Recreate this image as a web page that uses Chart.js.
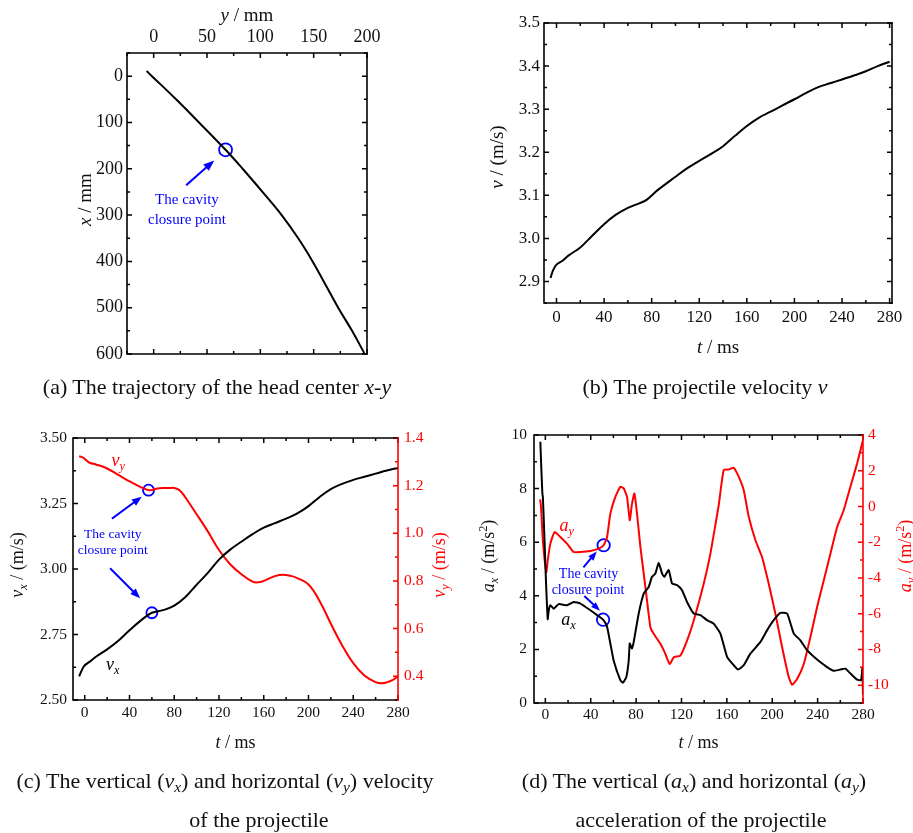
<!DOCTYPE html>
<html>
<head>
<meta charset="utf-8">
<script src="https://cdn.jsdelivr.net/npm/chart.js@4.4.1/dist/chart.umd.min.js"></script>
<style>
  body { margin: 0; background: #fff; }
  #page { position: relative; width: 913px; height: 833px; overflow: hidden; background: #fff;
          font-family: "Liberation Serif", "Times New Roman", serif; }
  #page canvas { position: absolute; left: 0; top: 0; }
  .cap { position: absolute; font-size: 22px; line-height: 26px; white-space: nowrap;
         transform: translateX(-50%); color: #111; }
  .cap sub { font-size: 0.7em; vertical-align: -0.25em; line-height: 0; }
</style>
</head>
<body>
<div id="page">
  <canvas id="chartA" width="913" height="833"></canvas>
  <canvas id="chartB" width="913" height="833"></canvas>
  <canvas id="chartC" width="913" height="833"></canvas>
  <canvas id="chartD" width="913" height="833"></canvas>
  <div class="cap" style="left:217px;top:374px">(a) The trajectory of the head center <i>x</i>-<i>y</i></div>
  <div class="cap" style="left:705px;top:374px">(b) The projectile velocity <i>v</i></div>
  <div class="cap" style="left:225px;top:768px">(c) The vertical (<i>v<sub>x</sub></i>) and horizontal (<i>v<sub>y</sub></i>) velocity</div>
  <div class="cap" style="left:259px;top:807px">of the projectile</div>
  <div class="cap" style="left:694px;top:768px">(d) The vertical (<i>a<sub>x</sub></i>) and horizontal (<i>a<sub>y</sub></i>)</div>
  <div class="cap" style="left:701px;top:807px">acceleration of the projectile</div>
</div>
<script>
// (a) head centre trajectory: horizontal y (mm) against depth x (mm)
const trajY = [-6.6, -1.6, 21, 42.5, 67.4, 83.4, 102, 120, 135.5, 149, 161, 173, 186, 197.4];
const trajX = [-11, 0, 50, 100, 159, 200, 250, 300, 350, 400, 450, 500, 550, 598];
const closureA = 4;

// (b) projectile velocity v
const tV = [-5, -3, 0, 5, 10, 20, 30, 40, 50, 60, 70, 76, 85, 100, 110, 120, 130, 140, 150, 160,
            170, 180, 190, 200, 210, 220, 230, 240, 250, 260, 270, 280];
const vV = [2.908, 2.925, 2.939, 2.948, 2.96, 2.979, 3.006, 3.033, 3.055, 3.071, 3.082, 3.09, 3.112,
            3.143, 3.163, 3.18, 3.196, 3.214, 3.238, 3.261, 3.28, 3.294, 3.309, 3.323, 3.338, 3.351,
            3.36, 3.369, 3.378, 3.388, 3.4, 3.41];

// (c) vertical vx and horizontal vy velocity
const tVx = [-5, -3, -1, 1, 5, 10, 20, 30, 40, 50, 60, 70, 80, 90, 100, 110, 120, 130, 140, 150, 160,
             170, 180, 190, 200, 210, 220, 230, 240, 250, 260, 270, 280];
const vx = [2.59, 2.61, 2.627, 2.636, 2.648, 2.665, 2.693, 2.726, 2.766, 2.803, 2.833, 2.843, 2.86,
            2.893, 2.94, 2.985, 3.036, 3.074, 3.104, 3.133, 3.158, 3.175, 3.192, 3.212, 3.24, 3.275,
            3.305, 3.325, 3.34, 3.352, 3.364, 3.376, 3.386];
const tVy = [-5, -3, -1, 1, 3, 5, 10, 20, 30, 40, 50, 57, 60, 65, 70, 75, 80, 85, 90, 100, 110, 120,
             130, 140, 150, 155, 160, 170, 177, 185, 190, 200, 210, 220, 230, 240, 250, 260, 265, 270,
             275, 280];
const vy = [1.323, 1.321, 1.316, 1.308, 1.3, 1.295, 1.289, 1.272, 1.245, 1.218, 1.194, 1.181, 1.182,
            1.188, 1.19, 1.19, 1.19, 1.18, 1.15, 1.08, 1.008, 0.93, 0.87, 0.828, 0.797, 0.794, 0.8,
            0.82, 0.826, 0.82, 0.812, 0.785, 0.715, 0.62, 0.53, 0.455, 0.403, 0.375, 0.37, 0.374,
            0.383, 0.4];
const closureVx = 60, closureVy = 57;

// (d) vertical ax and horizontal ay acceleration
const tAx = [-4.4, -3.6, -2.6, -2.2, -1, 0.5, 2.1, 3, 4.4, 7.3, 11.8, 19.1, 25, 30.9, 39.7, 45.6, 50.9,
             54.4, 57.3, 60.2, 66.1, 68.5, 71.4, 73.5, 74.4, 76.4, 77.9, 82.3, 86.7, 91.1, 94, 97, 99.9,
             102.9, 104.9, 108.7, 111.7, 116.1, 120.5, 124.9, 130.8, 136.7, 142.5, 148.4, 154.3, 160.2,
             166, 169.9, 174.9, 180.7, 189.6, 195.4, 201.3, 207.2, 213.1, 219, 224.8, 230.7, 239.5,
             248.3, 254.2, 260.1, 264.5, 268.9, 274.8, 278.3, 279.5, 280];
const ax = [9.75, 8.8, 7.8, 7.7, 6.4, 4.6, 3.13, 3.45, 3.65, 3.52, 3.69, 3.65, 3.77, 3.71, 3.46, 3.28,
            3.11, 2.84, 2.22, 1.59, 0.85, 0.76, 0.97, 1.59, 2.22, 2.03, 2.28, 3.34, 4.08, 4.33, 4.71,
            4.83, 5.23, 4.83, 4.71, 4.96, 4.46, 4.4, 4.21, 3.77, 3.34, 3.28, 3.09, 2.96, 2.59, 1.72,
            1.41, 1.25, 1.41, 1.84, 2.28, 2.71, 3.09, 3.36, 3.34, 2.59, 2.34, 1.97, 1.62, 1.34, 1.2,
            1.25, 1.28, 1.1, 0.87, 0.85, 1.32, 0.3];
const tAy = [-4.6, -4.0, -3.3, -2.4, -0.9, 0.9, 2.1, 4.4, 8.2, 13.2, 19.1, 25, 30.9, 39.7, 47, 51.4,
             54.4, 57.3, 61.7, 66.1, 69.1, 72, 74.4, 76.4, 78.5, 80.8, 83.8, 88.2, 92.6, 95.5, 101.4,
             105.8, 109.6, 113.2, 119, 124.9, 130.8, 139.6, 145.5, 152.8, 157.2, 161.6, 166, 170.5,
             174.9, 179.3, 185.2, 191, 196.9, 202.8, 208.7, 214.6, 217.5, 221.9, 227.8, 233.6, 239.5,
             245.4, 251.3, 257.2, 263, 268.9, 274.8, 280];
const ay = [0.4, 0.1, -0.6, -1.71, -2.83, -3.67, -3.02, -2.08, -1.43, -1.71, -2.08, -2.55, -2.55,
            -2.49, -2.36, -2.17, -1.71, -0.4, 0.54, 1.1, 1.01, 0.54, -0.77, 0.16, 0.73, -0.4, -2.27,
            -4.51, -6.76, -7.13, -7.69, -8.25, -8.82, -8.44, -8.35, -7.51, -6.38, -4.33, -2.64, 0.07,
            2.04, 2.07, 2.17, 1.66, 0.91, -0.58, -1.89, -2.83, -4.33, -6.01, -7.88, -9.56, -9.98,
            -9.66, -8.82, -7.32, -5.64, -4.14, -2.64, -1.15, -0.21, 1.1, 2.41, 3.72];
const closureAx = 50.9, closureAy = 51.4;

// tick labels
const ticksTrajY = [0, 50, 100, 150, 200];
const ticksTrajX = [0, 100, 200, 300, 400, 500, 600];
const ticksT = [0, 40, 80, 120, 160, 200, 240, 280];
const ticksV = [2.9, 3.0, 3.1, 3.2, 3.3, 3.4, 3.5];
const ticksVx = [2.5, 2.75, 3.0, 3.25, 3.5];
const ticksVy = [0.4, 0.6, 0.8, 1.0, 1.2, 1.4];
const ticksAx = [0, 2, 4, 6, 8, 10];
const ticksAy = [-10, -8, -6, -4, -2, 0, 2, 4];

const SERIF = '"Liberation Serif", "Times New Roman", serif';
const BLUE = '#0000ff', RED = '#ff0000';
const SIDE_ROOM = 50, RIGHT_ROOM = 40, ROW_ROOM = 32;

function xy(xs, ys) { return xs.map(function (x, i) { return {x: x, y: ys[i]}; }); }
function at(xs, ys, x) { const i = xs.indexOf(x); return [{x: xs[i], y: ys[i]}]; }

// layout padding so that the plot box lands on (l, t, r, b); scales get a fixed room
function area(l, t, r, b, has) {
  return {
    left: l - (has.left ? SIDE_ROOM : 0),
    top: t - (has.top ? ROW_ROOM : 0),
    right: 913 - r - (has.right ? RIGHT_ROOM : 0),
    bottom: 833 - b - (has.bottom ? ROW_ROOM : 0)
  };
}

function linAxis(pos, min, max, ticks, fmt, o) {
  const room = pos === 'left' ? SIDE_ROOM : pos === 'right' ? RIGHT_ROOM : ROW_ROOM;
  return {
    type: 'linear', position: pos, min: min, max: max, reverse: !!o.reverse,
    grid: {display: false, drawTicks: false},
    border: {display: false},
    afterBuildTicks: function (s) { s.ticks = ticks.map(function (v) { return {value: v}; }); },
    afterFit: function (s) {
      if (s.isHorizontal()) s.height = room; else s.width = room;
      s.paddingLeft = s.paddingRight = s.paddingTop = s.paddingBottom = 0;
    },
    ticks: {
      color: o.color || '#111', padding: o.pad,
      maxRotation: 0, minRotation: 0, autoSkip: false,
      font: {family: SERIF, size: o.size},
      callback: function (v) { return fmt(v); }
    }
  };
}

function curve(data, color, axisId, tension) {
  return {data: data, borderColor: color, borderWidth: 2, pointRadius: 0, fill: false,
          tension: tension, yAxisID: axisId};
}
function ring(data, axisId, r) {
  return {data: data, showLine: false, pointRadius: r, pointHoverRadius: r, pointStyle: 'circle',
          pointBorderColor: BLUE, pointBackgroundColor: 'rgba(0,0,0,0)', pointBorderWidth: 1.8,
          yAxisID: axisId};
}

// frame, inward ticks, axis titles and the blue notes for each panel
const decor = {
  chartA: {
    right: 'y', rightColor: '#000',
    titles: [
      {side: 'top', dist: 38, size: 19, parts: [{t: 'y', i: 1}, {t: ' / mm'}]},
      {side: 'left', dist: 42, shift: -4, size: 19, parts: [{t: 'x', i: 1}, {t: ' / mm'}]}
    ],
    notes: [
      {kind: 'arrow', from: [31.2, 234], to: [56.8, 182], head: 11},
      {kind: 'rich', at: [31.2, 265], size: 15, color: BLUE, parts: [{t: 'The cavity'}]},
      {kind: 'rich', at: [31.2, 308], size: 15, color: BLUE, parts: [{t: 'closure point'}]}
    ]
  },
  chartB: {
    right: 'y', rightColor: '#000',
    titles: [
      {side: 'left', dist: 47, shift: -6, size: 19, parts: [{t: 'v', i: 1}, {t: ' / (m/s)'}]},
      {side: 'bottom', dist: 44, size: 19, parts: [{t: 't', i: 1}, {t: ' / ms'}]}
    ],
    notes: []
  },
  chartC: {
    right: 'y2', rightColor: RED,
    titles: [
      {side: 'left', dist: 56, shift: -4, size: 18, parts: [{t: 'v', i: 1}, {t: 'x', i: 1, sub: 1}, {t: ' / (m/s)'}]},
      {side: 'right', dist: 41, shift: -4, size: 18, color: RED, parts: [{t: 'v', i: 1}, {t: 'y', i: 1, sub: 1}, {t: ' / (m/s)'}]},
      {side: 'bottom', dist: 42, size: 18, parts: [{t: 't', i: 1}, {t: ' / ms'}]}
    ],
    notes: [
      {kind: 'arrow', from: [25, 3.194], to: [51, 3.276], head: 10},
      {kind: 'arrow', from: [23.3, 3.0], to: [49.5, 2.888], head: 10},
      {kind: 'rich', at: [25, 3.136], size: 13.5, color: BLUE, parts: [{t: 'The cavity'}]},
      {kind: 'rich', at: [25, 3.075], size: 13.5, color: BLUE, parts: [{t: 'closure point'}]},
      {kind: 'rich', at: [30, 3.415], size: 18, color: RED, parts: [{t: 'v', i: 1}, {t: 'y', i: 1, sub: 1}]},
      {kind: 'rich', at: [25, 2.637], size: 18, color: '#000', parts: [{t: 'v', i: 1}, {t: 'x', i: 1, sub: 1}]}
    ]
  },
  chartD: {
    right: 'y2', rightColor: RED,
    titles: [
      {side: 'left', dist: 46, shift: -13, size: 18, parts: [{t: 'a', i: 1}, {t: 'x', i: 1, sub: 1}, {t: ' / (m/s'}, {t: '2', sup: 1}, {t: ')'}]},
      {side: 'right', dist: 42, shift: -13, size: 18, color: RED, parts: [{t: 'a', i: 1}, {t: 'y', i: 1, sub: 1}, {t: ' / (m/s'}, {t: '2', sup: 1}, {t: ')'}]},
      {side: 'bottom', dist: 39, size: 18, parts: [{t: 't', i: 1}, {t: ' / ms'}]}
    ],
    notes: [
      {kind: 'arrow', from: [34.1, 5.09], to: [45.3, 5.65], head: 9},
      {kind: 'arrow', from: [35, 3.97], to: [48.2, 3.44], head: 9},
      {kind: 'rich', at: [38.1, 4.84], size: 14, color: BLUE, parts: [{t: 'The cavity'}]},
      {kind: 'rich', at: [37.6, 4.22], size: 14, color: BLUE, parts: [{t: 'closure point'}]},
      {kind: 'rich', at: [18.9, 6.64], size: 18, color: RED, parts: [{t: 'a', i: 1}, {t: 'y', i: 1, sub: 1}]},
      {kind: 'rich', at: [20.3, 3.12], size: 18, color: '#000', parts: [{t: 'a', i: 1}, {t: 'x', i: 1, sub: 1}]}
    ]
  }
};

function drawRich(ctx, parts, x, y, size, color, rot) {
  ctx.save();
  ctx.translate(x, y);
  if (rot) ctx.rotate(rot);
  let w = 0;
  const items = parts.map(function (p) {
    const s = (p.sub || p.sup) ? size * 0.68 : size;
    const font = (p.i ? 'italic ' : '') + s + 'px ' + SERIF;
    ctx.font = font;
    const mw = ctx.measureText(p.t).width;
    const it = {t: p.t, font: font, x: w, dy: p.sub ? size * 0.22 : (p.sup ? -size * 0.38 : 0)};
    w += mw;
    return it;
  });
  ctx.fillStyle = color;
  ctx.textAlign = 'left';
  ctx.textBaseline = 'alphabetic';
  items.forEach(function (it) {
    ctx.font = it.font;
    ctx.fillText(it.t, it.x - w / 2, size * 0.32 + it.dy);
  });
  ctx.restore();
}

function drawTicks(ctx, scale, side, a, color) {
  const major = scale.ticks.map(function (t) { return t.value; });
  const step = major[1] - major[0];
  const lo = Math.min(scale.min, scale.max), hi = Math.max(scale.min, scale.max);
  ctx.strokeStyle = color;
  ctx.lineWidth = 1.5;
  ctx.beginPath();
  for (let k = -4; k <= major.length * 2 + 4; k++) {
    const v = major[0] + k * step / 2;
    if (v < lo - 1e-9 || v > hi + 1e-9) continue;
    const len = k % 2 === 0 ? 5 : 3;
    const p = scale.getPixelForValue(v);
    if (side === 'bottom') { ctx.moveTo(p, a.bottom); ctx.lineTo(p, a.bottom - len); }
    if (side === 'top') { ctx.moveTo(p, a.top); ctx.lineTo(p, a.top + len); }
    if (side === 'left') { ctx.moveTo(a.left, p); ctx.lineTo(a.left + len, p); }
    if (side === 'right') { ctx.moveTo(a.right, p); ctx.lineTo(a.right - len, p); }
  }
  ctx.stroke();
}

function drawArrow(ctx, x1, y1, x2, y2, head) {
  const ang = Math.atan2(y2 - y1, x2 - x1);
  const bx = x2 - head * Math.cos(ang), by = y2 - head * Math.sin(ang);
  ctx.strokeStyle = BLUE;
  ctx.fillStyle = BLUE;
  ctx.lineWidth = 2;
  ctx.beginPath();
  ctx.moveTo(x1, y1);
  ctx.lineTo(bx, by);
  ctx.stroke();
  const hw = head * 0.38;
  ctx.beginPath();
  ctx.moveTo(x2, y2);
  ctx.lineTo(bx + hw * Math.sin(ang), by - hw * Math.cos(ang));
  ctx.lineTo(bx - hw * Math.sin(ang), by + hw * Math.cos(ang));
  ctx.closePath();
  ctx.fill();
}

const framePlugin = {
  id: 'frame',
  afterDraw: function (chart) {
    const d = decor[chart.canvas.id];
    const ctx = chart.ctx, a = chart.chartArea, sc = chart.scales;
    ctx.save();
    drawTicks(ctx, sc.x, 'bottom', a, '#000');
    drawTicks(ctx, sc.x, 'top', a, '#000');
    drawTicks(ctx, sc.y, 'left', a, '#000');
    drawTicks(ctx, sc[d.right], 'right', a, d.rightColor);

    ctx.lineWidth = 1.6;
    ctx.lineCap = 'square';
    ctx.strokeStyle = '#000';
    ctx.beginPath();
    ctx.moveTo(a.right, a.top); ctx.lineTo(a.left, a.top);
    ctx.lineTo(a.left, a.bottom); ctx.lineTo(a.right, a.bottom);
    ctx.stroke();
    ctx.strokeStyle = d.rightColor;
    ctx.beginPath();
    ctx.moveTo(a.right, a.top); ctx.lineTo(a.right, a.bottom);
    ctx.stroke();

    const cx = (a.left + a.right) / 2, cy = (a.top + a.bottom) / 2;
    d.titles.forEach(function (t) {
      const col = t.color || '#111', sh = t.shift || 0;
      if (t.side === 'top') drawRich(ctx, t.parts, cx + sh, a.top - t.dist, t.size, col, 0);
      if (t.side === 'bottom') drawRich(ctx, t.parts, cx + sh, a.bottom + t.dist, t.size, col, 0);
      if (t.side === 'left') drawRich(ctx, t.parts, a.left - t.dist, cy + sh, t.size, col, -Math.PI / 2);
      if (t.side === 'right') drawRich(ctx, t.parts, a.right + t.dist, cy + sh, t.size, col, -Math.PI / 2);
    });

    d.notes.forEach(function (n) {
      if (n.kind === 'arrow') {
        drawArrow(ctx, sc.x.getPixelForValue(n.from[0]), sc.y.getPixelForValue(n.from[1]),
                  sc.x.getPixelForValue(n.to[0]), sc.y.getPixelForValue(n.to[1]), n.head);
      } else {
        drawRich(ctx, n.parts, sc.x.getPixelForValue(n.at[0]), sc.y.getPixelForValue(n.at[1]),
                 n.size, n.color, 0);
      }
    });
    ctx.restore();
  }
};

function baseOptions(pad, scales) {
  return {
    responsive: false, animation: false, events: [],
    layout: {padding: pad},
    plugins: {legend: {display: false}, tooltip: {enabled: false}},
    scales: scales
  };
}

const f0 = function (v) { return String(v); };
const f1 = function (v) { return v.toFixed(1); };
const f2 = function (v) { return v.toFixed(2); };

new Chart(document.getElementById('chartA'), {
  type: 'line',
  data: {datasets: [
    curve(xy(trajY, trajX), '#000', 'y', 0.4),
    ring([{x: trajY[closureA], y: trajX[closureA]}], 'y', 6.5)
  ]},
  options: baseOptions(area(127, 53, 367, 354, {left: 1, top: 1}), {
    x: linAxis('top', -25, 200, ticksTrajY, f0, {pad: 4.5, size: 18}),
    y: linAxis('left', -50, 600, ticksTrajX, f0, {pad: 4, size: 18, reverse: true})
  }),
  plugins: [framePlugin]
});

new Chart(document.getElementById('chartB'), {
  type: 'line',
  data: {datasets: [curve(xy(tV, vV), '#000', 'y', 0.4)]},
  options: baseOptions(area(544, 23, 892, 303, {left: 1, bottom: 1}), {
    x: linAxis('bottom', -10.5, 282, ticksT, f0, {pad: 4.8, size: 17}),
    y: linAxis('left', 2.85, 3.5, ticksV, f1, {pad: 4, size: 17})
  }),
  plugins: [framePlugin]
});

new Chart(document.getElementById('chartC'), {
  type: 'line',
  data: {datasets: [
    curve(xy(tVx, vx), '#000', 'y', 0.4),
    curve(xy(tVy, vy), RED, 'y2', 0.4),
    ring(at(tVx, vx, closureVx), 'y', 5.5),
    ring(at(tVy, vy, closureVy), 'y2', 5.5)
  ]},
  options: baseOptions(area(73, 438, 398, 700, {left: 1, right: 1, bottom: 1}), {
    x: linAxis('bottom', -10.5, 280, ticksT, f0, {pad: 3.7, size: 15.5}),
    y: linAxis('left', 2.5, 3.5, ticksVx, f2, {pad: 6, size: 15.5}),
    y2: linAxis('right', 0.3, 1.4, ticksVy, f1, {pad: 6, size: 15.5, color: RED})
  }),
  plugins: [framePlugin]
});

new Chart(document.getElementById('chartD'), {
  type: 'line',
  data: {datasets: [
    curve(xy(tAx, ax), '#000', 'y', 0.15),
    curve(xy(tAy, ay), RED, 'y2', 0.15),
    ring(at(tAx, ax, closureAx), 'y', 6.2),
    ring(at(tAy, ay, closureAy), 'y2', 6.2)
  ]},
  options: baseOptions(area(534, 435, 863, 703, {left: 1, right: 1, bottom: 1}), {
    x: linAxis('bottom', -10, 280, ticksT, f0, {pad: 3, size: 15.5}),
    y: linAxis('left', 0, 10, ticksAx, f0, {pad: 7, size: 15.5}),
    y2: linAxis('right', -11, 4, ticksAy, f0, {pad: 5, size: 15.5, color: RED})
  }),
  plugins: [framePlugin]
});
</script>
</body>
</html>
